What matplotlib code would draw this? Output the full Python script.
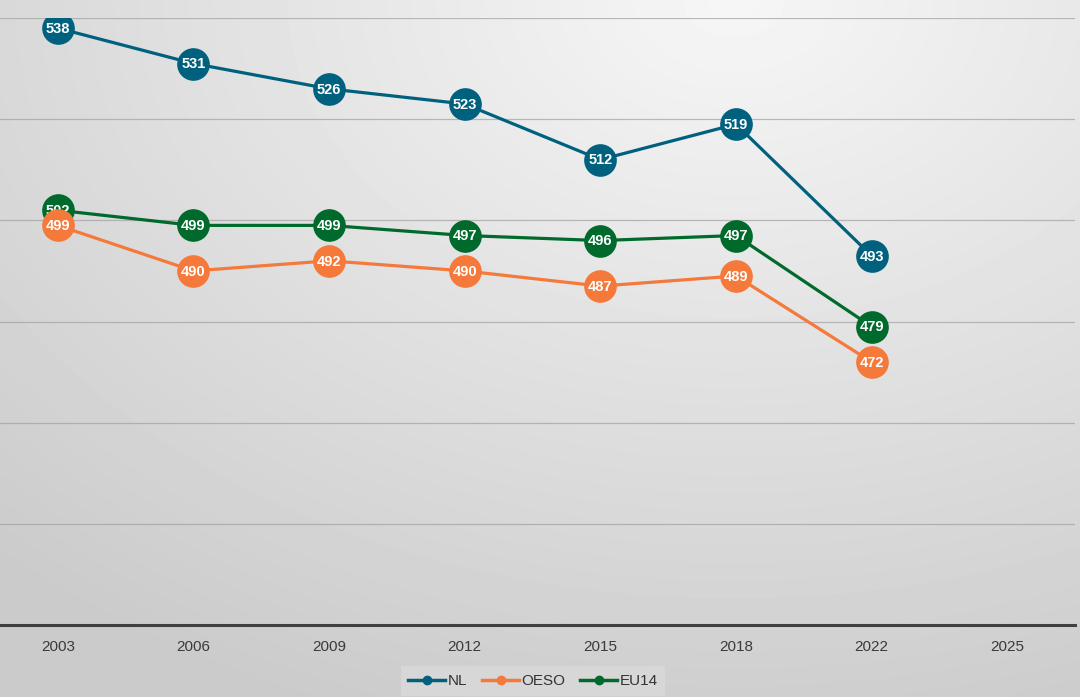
import numpy as np
import matplotlib
matplotlib.use("Agg")
import matplotlib.pyplot as plt
from matplotlib.lines import Line2D

years = ["2003", "2006", "2009", "2012", "2015", "2018", "2022", "2025"]
nl = [538, 531, 526, 523, 512, 519, 493]
oeso = [499, 490, 492, 490, 487, 489, 472]
eu14 = [502, 499, 499, 497, 496, 497, 479]

series = [
    ("NL", nl, "#00617f", 3),
    ("OESO", oeso, "#f4793b", 5),
    ("EU14", eu14, "#006a2c", 4),
]

plt.rcParams["font.family"] = ["Liberation Sans", "DejaVu Sans"]

W, H = 1080, 697
fig = plt.figure(figsize=(W / 100, H / 100), dpi=100)

# background gradient, lightest near the top middle-right
bg = fig.add_axes([0, 0, 1, 1], zorder=-10)
gx, gy = np.meshgrid(np.linspace(0, 1, 300), np.linspace(0, 1, 200))
d = np.sqrt(((gx - 0.68) * 1.1) ** 2 + ((gy - 1.0) * 1.0) ** 2)
shade = 0.965 - 0.17 * np.clip(d / 1.1, 0, 1)
bg.imshow(shade, cmap="gray", vmin=0, vmax=1, origin="lower",
          extent=[0, 1, 0, 1], aspect="auto", interpolation="bicubic")
bg.set_axis_off()

ax = fig.add_axes([-10 / W, (H - 625) / H, 1085 / W, 607 / H])
ax.patch.set_alpha(0)
x = np.arange(len(years))

for name, vals, color, z in series:
    xs = x[:len(vals)]
    ax.plot(xs, vals, color=color, lw=2.3, marker="o", ms=22.5,
            mec=color, label=name, zorder=z)
    for xi, v in zip(xs, vals):
        ax.text(xi, v - 0.15, str(v), color="white", fontsize=10.5, fontweight="bold",
                ha="center", va="center", zorder=z + 0.5)

ax.set_xlim(-0.5, 7.5)
ax.set_ylim(420, 540)
ax.set_yticks(np.arange(420, 541, 20))
ax.yaxis.grid(True, color="#a0a0a0", lw=0.9, alpha=0.7)
ax.set_axisbelow(True)
ax.tick_params(axis="y", length=0, labelleft=False)
ax.set_xticks(x)
ax.set_xticklabels(years, fontsize=11, color="#3a3a3a")
ax.tick_params(axis="x", length=0, pad=11)
for s in ["top", "right", "left"]:
    ax.spines[s].set_visible(False)
ax.spines["bottom"].set_color("#404040")
ax.spines["bottom"].set_linewidth(2.2)

labels = [name for name, _, _, _ in series]
handles = [Line2D([], [], color=c, lw=2.5, marker="o", ms=6) for _, _, c, _ in series]
leg = fig.legend(handles, labels, loc="center", bbox_to_anchor=(533 / W, 1 - 681 / H),
                 ncol=3, frameon=True, fontsize=11, handlelength=2.4,
                 handletextpad=0.15, columnspacing=1.0, borderpad=0.5)
leg.get_frame().set_facecolor("#dadada")
leg.get_frame().set_edgecolor("none")
leg.get_frame().set_boxstyle("square", pad=0)
for t in leg.get_texts():
    t.set_color("#333333")

fig.savefig("out.png", dpi=100)
